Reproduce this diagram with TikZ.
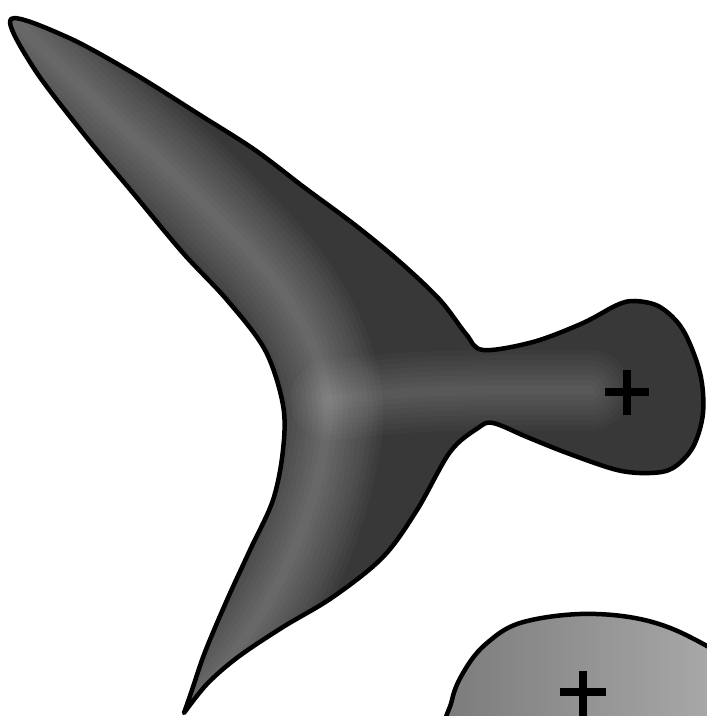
\documentclass[tikz,border=0pt]{standalone}
\definecolor{bodygray}{HTML}{383838}
\definecolor{blobleft}{HTML}{7A7A7A}
\definecolor{blobright}{HTML}{B2B2B2}
\tikzset{
  outline/.style={black, line width=0.045cm, line join=round},
  plusmark/.style={black, line width=0.085cm},
  ridge/.style={white, line cap=round, line join=round}
}
% starts and ends at the pointed lower tip
\newcommand{\bodyoutline}{plot[smooth, tension=0.55] coordinates {
  (184,713) (192,690) (205,652)
  (227,600) (250,550) (273,500) (283,450) (283,405) (265,350)
  (227,300) (183,253) (133,193) (83,133) (33,67)
  (11,19) (67,37) (133,73) (200,115) (255,150) (305,188) (355,225)
  (400,262) (440,300) (466,334) (483,350) (533,342) (583,323)
  (617,305) (635,301) (660,307) (683,330) (700,373) (703,413)
  (693,447) (673,468) (650,473) (617,470) (567,453) (527,437)
  (493,423) (478,428) (450,452) (417,510) (383,557) (333,597)
  (283,627) (238,657) (207,684) (184,713)} -- cycle}
\begin{document}
\begin{tikzpicture}[x=0.01cm, y=-0.01cm]
  \useasboundingbox (0,0) rectangle (707,716);

  % lower blob, cut by the frame
  \begin{scope}
    \clip (0,0) rectangle (707,716);
    \shade[left color=blobleft, right color=blobright]
      plot[smooth cycle, tension=0.6] coordinates {
        (450,745) (452,700) (466,668) (487,643) (520,623) (580,614)
        (640,619) (690,637) (735,668) (765,725) (700,785) (540,790)};
    \draw[outline]
      plot[smooth cycle, tension=0.6] coordinates {
        (450,745) (452,700) (466,668) (487,643) (520,623) (580,614)
        (640,619) (690,637) (735,668) (765,725) (700,785) (540,790)};
  \end{scope}
  \draw[plusmark] (560,692) -- (606,692) (583,671) -- (583,725);

  % main body
  \fill[bodygray] \bodyoutline;
  \begin{scope}
    \clip \bodyoutline;
    \foreach \w in {110,100,...,10}
      \draw[ridge, opacity=0.028, line width=\w*0.1mm]
        plot[smooth, tension=0.6] coordinates {
          (18,24) (100,105) (200,200) (285,295) (325,385) (320,470)
          (285,570) (235,652) (188,708)};
    \foreach \w in {80,70,...,10}
      \draw[ridge, opacity=0.022, line width=\w*0.1mm]
        plot[smooth, tension=0.6] coordinates {
          (330,400) (420,392) (520,390) (590,390)};
  \end{scope}
  \draw[outline] \bodyoutline;
  \draw[plusmark] (605,392) -- (649,392) (627,370) -- (627,415);
\end{tikzpicture}
\end{document}
